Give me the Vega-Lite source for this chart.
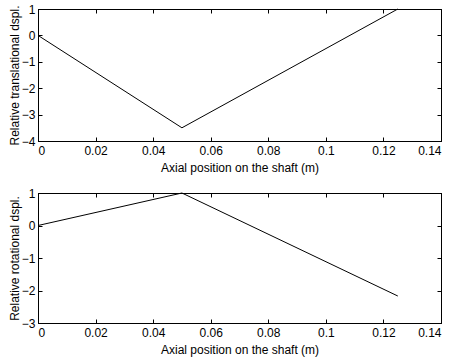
{
  "$schema": "https://vega.github.io/schema/vega-lite/v6.json",
  "background": "white",
  "padding": {"left": 7, "top": 2, "right": 5, "bottom": 5},
  "spacing": 12,
  "config": {
    "font": "Liberation Sans",
    "view": {"stroke": "black", "strokeWidth": 1},
    "axis": {
      "domainColor": "black",
      "tickColor": "black",
      "labelColor": "black",
      "titleColor": "black",
      "labelFont": "Liberation Sans",
      "titleFont": "Liberation Sans",
      "labelFontSize": 12,
      "titleFontSize": 12,
      "titleFontWeight": "normal",
      "grid": false,
      "tickSize": -4,
      "labelPadding": 7,
      "format": "~g"
    },
    "axisX": {"labelPadding": 8}
  },
  "datasets": {
    "trans": [
      {"x": 0, "y": 0},
      {"x": 0.05, "y": -3.5},
      {"x": 0.125, "y": 1}
    ],
    "rot": [
      {"x": 0, "y": 0},
      {"x": 0.05, "y": 1},
      {"x": 0.125, "y": -2.17}
    ]
  },
  "vconcat": [
    {
      "width": 403,
      "height": 132,
      "data": {"name": "trans"},
      "layer": [
        {
          "mark": {"type": "line", "color": "black", "strokeWidth": 1},
          "encoding": {
            "x": {"field": "x", "type": "quantitative", "scale": {"domain": [0, 0.14], "nice": false},
                  "axis": {"values": [0, 0.02, 0.04, 0.06, 0.08, 0.1, 0.12, 0.14], "format": "~g", "title": "Axial position on the shaft (m)", "titlePadding": 6}},
            "y": {"field": "y", "type": "quantitative", "scale": {"domain": [-4, 1], "nice": false},
                  "axis": {"values": [-4, -3, -2, -1, 0, 1], "format": "~g", "title": "Relative translational dspl.", "titlePadding": 0}}
          }
        },
        {
          "mark": {"type": "line", "opacity": 0},
          "encoding": {
            "x": {"field": "x", "type": "quantitative", "axis": {"orient": "top", "values": [0, 0.02, 0.04, 0.06, 0.08, 0.1, 0.12, 0.14], "labels": false, "title": null}},
            "y": {"field": "y", "type": "quantitative", "axis": {"orient": "right", "values": [-4, -3, -2, -1, 0, 1], "labels": false, "title": null}}
          }
        }
      ],
      "resolve": {"axis": {"x": "independent", "y": "independent"}}
    },
    {
      "width": 403,
      "height": 130,
      "data": {"name": "rot"},
      "layer": [
        {
          "mark": {"type": "line", "color": "black", "strokeWidth": 1},
          "encoding": {
            "x": {"field": "x", "type": "quantitative", "scale": {"domain": [0, 0.14], "nice": false},
                  "axis": {"values": [0, 0.02, 0.04, 0.06, 0.08, 0.1, 0.12, 0.14], "format": "~g", "title": "Axial position on the shaft (m)", "titlePadding": 6}},
            "y": {"field": "y", "type": "quantitative", "scale": {"domain": [-3, 1], "nice": false},
                  "axis": {"values": [-3, -2, -1, 0, 1], "format": "~g", "title": "Relative rotational dspl.", "titlePadding": 0}}
          }
        },
        {
          "mark": {"type": "line", "opacity": 0},
          "encoding": {
            "x": {"field": "x", "type": "quantitative", "axis": {"orient": "top", "values": [0, 0.02, 0.04, 0.06, 0.08, 0.1, 0.12, 0.14], "labels": false, "title": null}},
            "y": {"field": "y", "type": "quantitative", "axis": {"orient": "right", "values": [-3, -2, -1, 0, 1], "labels": false, "title": null}}
          }
        }
      ],
      "resolve": {"axis": {"x": "independent", "y": "independent"}}
    }
  ]
}
